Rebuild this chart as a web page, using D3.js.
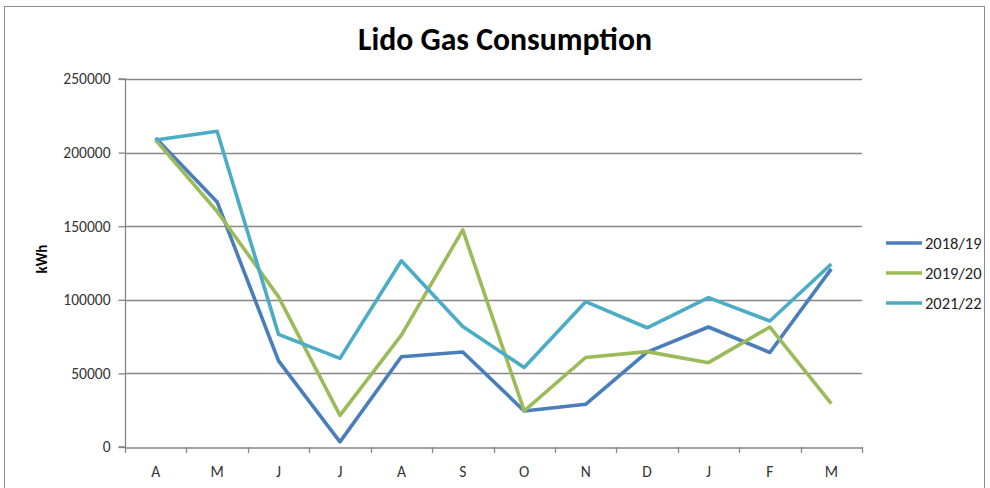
<!DOCTYPE html>
<html><head><meta charset="utf-8">
<script src="https://cdn.jsdelivr.net/npm/d3@7"></script>
<style>body{margin:0;background:#fff}svg{display:block}</style>
</head><body>
<svg id="chart" width="990" height="488"></svg>
<script>
const months = ["A","M","J","J","A","S","O","N","D","J","F","M"];
const seriesNames = ["2018/19","2019/20","2021/22"];
const colors = ["#4A7EBB","#9BBB59","#4BACC6"];
const s2018 = [210000,166500,58500,3500,61300,64500,24500,29000,64500,81500,64200,121000];
const s2019 = [208500,160000,102000,21500,76000,147500,24500,60800,64800,57300,81500,29500];
const s2021 = [208500,214500,76500,60200,126500,81800,54000,98700,81000,101500,85600,124300];
const yTicks = [0,50000,100000,150000,200000,250000];

const data = [s2018,s2019,s2021];
const svg = d3.select("#chart");
const font = "Calibri, Carlito, Lato, 'Open Sans', sans-serif";

svg.append("rect").attr("x",4.5).attr("y",6.5).attr("width",980).attr("height",490)
  .attr("fill","#fff").attr("stroke","#8c8c8c").attr("stroke-width",1);

const L=125, R=862, T=79, B=447;
const x = d3.scaleBand().domain(d3.range(12)).range([L,R]);
const y = d3.scaleLinear().domain([0,250000]).range([B,T]);

// gridlines
svg.append("g").selectAll("line").data(yTicks.filter(d=>d>0)).join("line")
  .attr("x1",L).attr("x2",R).attr("y1",d=>Math.round(y(d))+0.5).attr("y2",d=>Math.round(y(d))+0.5)
  .attr("stroke","#868686").attr("stroke-width",1.3);

// y axis
const ya = svg.append("g").attr("transform",`translate(${L+0.5},0)`)
  .call(d3.axisLeft(y).tickValues(yTicks).tickSize(7).tickPadding(8).tickFormat(d3.format("d")));
ya.select(".domain").attr("stroke","#868686").attr("stroke-width",1.3).attr("d",`M-7,${B}H0V${T}H-7`);
ya.selectAll(".tick line").attr("stroke","#868686").attr("stroke-width",1.3);
ya.selectAll("text").attr("font-family",font).attr("font-size",15.5).attr("fill","#333");

// x axis
const xa = svg.append("g").attr("transform",`translate(0,${B+0.5})`)
  .call(d3.axisBottom(x).tickFormat(i=>months[i]).tickSize(0).tickPadding(18));
xa.select(".domain").attr("stroke","#868686").attr("stroke-width",1.3);
xa.selectAll("text").attr("font-family",font).attr("font-size",15.5).attr("fill","#333");
// boundary ticks
svg.append("g").selectAll("line").data(d3.range(13)).join("line")
  .attr("x1",i=>Math.round(L+i*x.step())+0.5).attr("x2",i=>Math.round(L+i*x.step())+0.5)
  .attr("y1",B).attr("y2",B+6).attr("stroke","#868686").attr("stroke-width",1.3);

// lines
const line = d3.line().x((d,i)=>x(i)+x.bandwidth()/2).y(d=>y(d));
svg.append("g").selectAll("path").data(data).join("path")
  .attr("d",line).attr("fill","none").attr("stroke",(d,i)=>colors[i])
  .attr("stroke-width",3.6).attr("stroke-linejoin","round");

// title
const title = svg.append("text").attr("x",505).attr("y",50).attr("text-anchor","middle")
  .attr("font-family",font).attr("font-weight","bold").attr("font-size",28).attr("fill","#000")
  .text("Lido Gas Consumption");
const tw = title.node().getComputedTextLength();
if (tw > 0) title.attr("font-size", 28*294/tw);

// y label
svg.append("text").attr("transform","translate(47,259) rotate(-90)").attr("text-anchor","middle")
  .attr("font-family",font).attr("font-weight","bold").attr("font-size",15).attr("fill","#000")
  .text("kWh");

// legend
const lg = svg.append("g").selectAll("g").data(seriesNames).join("g")
  .attr("transform",(d,i)=>`translate(886,${243+i*30})`);
lg.append("line").attr("x1",0).attr("x2",36).attr("stroke",(d,i)=>colors[i]).attr("stroke-width",3.6);
lg.append("text").attr("x",39).attr("y",5.5).attr("font-family",font).attr("font-size",16.5).attr("fill","#222").text(d=>d);
</script>
</body></html>
